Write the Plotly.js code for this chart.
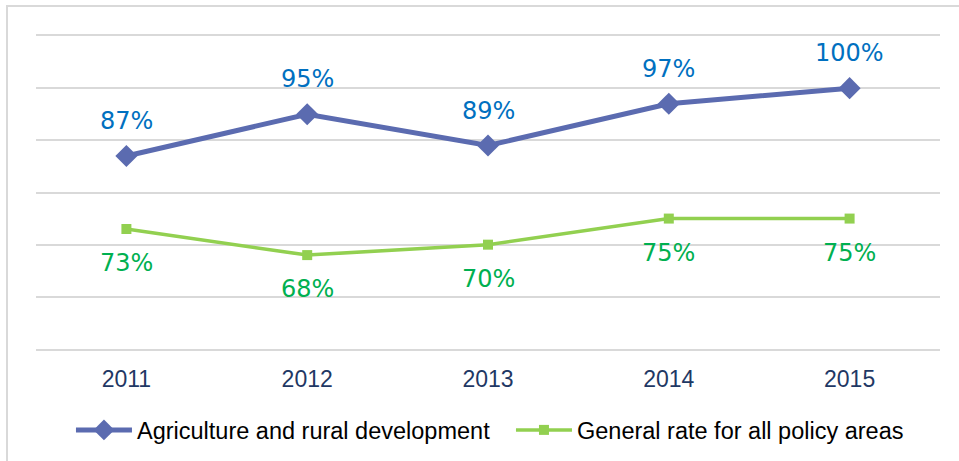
<!DOCTYPE html>
<html>
<head>
<meta charset="utf-8">
<script src="https://cdn.plot.ly/plotly-3.0.1.min.js"></script>
<style>
  html, body { margin: 0; padding: 0; background: #fff; }
  #frame { position: absolute; left: 6px; top: 5px; width: 970px; height: 470px; border: 2px solid #d9d9d9; box-sizing: border-box; }
  #chart { position: absolute; left: 0; top: 0; width: 959px; height: 461px; }
</style>
</head>
<body>
<div id="frame"></div>
<div id="chart"></div>
<script>
const years = ['2011', '2012', '2013', '2014', '2015'];
const agriculture = [87, 95, 89, 97, 100];
const generalRate = [73, 68, 70, 75, 75];
const seriesNames = ['Agriculture and rural development', 'General rate for all policy areas'];

const traces = [
  {
    x: years, y: agriculture, name: seriesNames[0], type: 'scatter', mode: 'lines+markers',
    line: { color: '#5b6bb0', width: 5 },
    marker: { symbol: 'diamond', size: 17, color: '#5b6bb0' }
  },
  {
    x: years, y: generalRate, name: seriesNames[1], type: 'scatter', mode: 'lines+markers',
    line: { color: '#92d050', width: 3.5 },
    marker: { symbol: 'square', size: 10, color: '#92d050' }
  }
];

const annotations = [];
years.forEach((yr, i) => {
  annotations.push({ x: i, y: agriculture[i], text: agriculture[i] + '%', showarrow: false, yshift: 35,
    font: { family: 'DejaVu Sans', size: 24, color: '#0070c0' } });
  annotations.push({ x: i, y: generalRate[i], text: generalRate[i] + '%', showarrow: false, yshift: -34,
    font: { family: 'DejaVu Sans', size: 24, color: '#00b050' } });
});

const layout = {
  width: 959, height: 461,
  margin: { l: 36, r: 19, t: 36, b: 112, autoexpand: false },
  paper_bgcolor: 'rgba(0,0,0,0)', plot_bgcolor: 'rgba(0,0,0,0)',
  showlegend: true,
  legend: { orientation: 'h', xref: 'container', yref: 'container', x: 0.074, xanchor: 'left', y: 0.067, yanchor: 'middle',
    font: { family: 'Liberation Sans', size: 23.5, color: '#000' }, itemwidth: 56, entrywidth: 369, traceorder: 'normal' },
  xaxis: { type: 'category', range: [-0.5, 4.5], showgrid: false, zeroline: false,
    showline: true, mirror: true, linecolor: '#d9d9d9', linewidth: 2,
    ticks: 'outside', ticklen: 8, tickcolor: 'rgba(0,0,0,0)',
    tickfont: { family: 'Liberation Sans', size: 23, color: '#1f3864' } },
  yaxis: { range: [50, 110], dtick: 10, showticklabels: false, showgrid: true, gridcolor: '#d9d9d9', gridwidth: 2,
    zeroline: false, showline: false, ticks: '' },
  annotations: annotations
};

Plotly.newPlot('chart', traces, layout, { displayModeBar: false, staticPlot: true });
</script>
</body>
</html>
